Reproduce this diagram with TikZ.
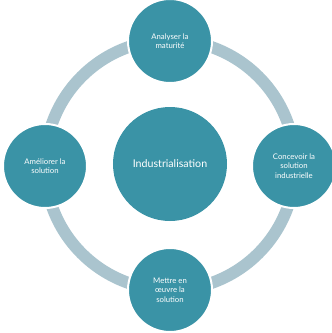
\documentclass[tikz,border=0pt]{standalone}
\usepackage{fontspec}
\setmainfont{Lato}
\definecolor{teal1}{RGB}{58,147,166}
\definecolor{ringc}{RGB}{170,196,206}
\begin{document}
\begin{tikzpicture}[x=1bp,y=-1bp,
  small/.style={circle,fill=teal1,draw=white,line width=2bp,minimum size=84bp,inner sep=0pt,text=white,font=\fontsize{7.8}{9.3}\selectfont,align=center},
  big/.style={circle,fill=teal1,minimum size=114bp,inner sep=0pt,text=white,font=\fontsize{10.7}{12}\selectfont}]
\useasboundingbox (0,0) rectangle (332,333);
\draw[ringc,line width=12bp] (170,165) circle (125);
\node[big] (c) at (170,164) {Industrialisation};
\node[small] (t) at (170,41) {Analyser la\\maturité};
\node[small] (r) at (294,166) {Concevoir la\\solution\\industrielle};
\node[small] (b) at (170,290) {Mettre en\\œuvre la\\solution};
\node[small] (l) at (45,166) {Améliorer la\\solution};
\end{tikzpicture}
\end{document}
